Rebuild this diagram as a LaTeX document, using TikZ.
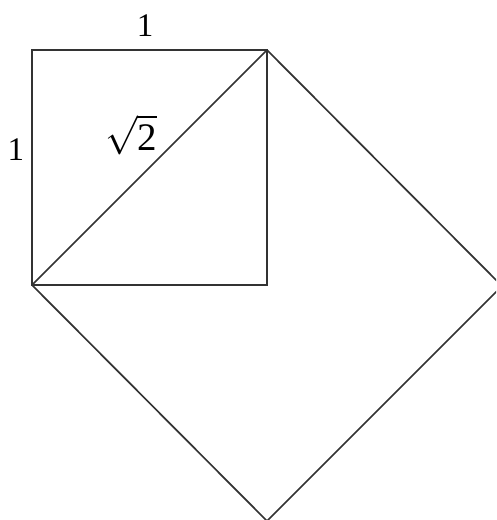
\documentclass[tikz,border=0pt]{standalone}
\usepackage{graphicx}
\usepackage{fontspec}
\setmainfont{Liberation Serif}
\begin{document}
\begin{tikzpicture}[x=1pt,y=-1pt,
  edge/.style={line width=1.7pt,draw=black!80,line join=miter},
  lbl/.style={font=\fontsize{33}{35}\selectfont,inner sep=0pt},
  rad/.style={inner sep=0pt}]
\useasboundingbox (0,0) rectangle (496,520);
\clip (0,0) rectangle (496,520);
\coordinate (A) at (32,50);
\coordinate (B) at (267,50);
\coordinate (C) at (267,285);
\coordinate (D) at (32,285);
\coordinate (R) at (502,286);
\coordinate (S) at (267,521);
\draw[edge] (A) -- (B) -- (C) -- (D) -- cycle;
\draw[edge] (D) -- (B);
\draw[edge] (B) -- (R) -- (S) -- (D);
\node[lbl] (top) at (145,26) {1};
\node[lbl] (left) at (16,150) {1};
\node[rad] (diag) at (131,135) {\scalebox{3.9}{$\sqrt{\mbox{2}}$}};
\end{tikzpicture}
\end{document}
